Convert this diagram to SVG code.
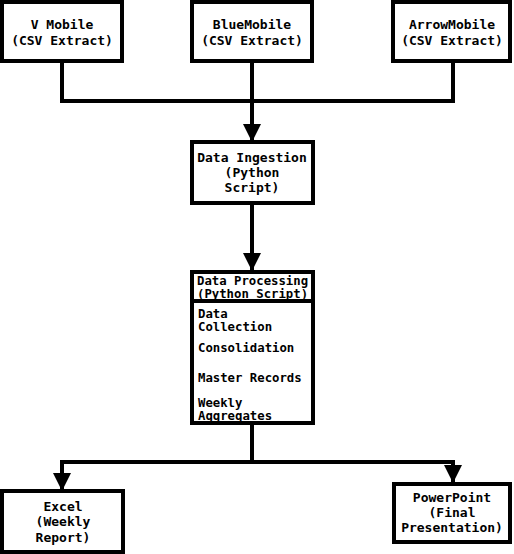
<svg xmlns="http://www.w3.org/2000/svg" width="514" height="554" viewBox="0 0 514 554">
  <style>
    .box { fill: #ffffff; stroke: #000000; stroke-width: 4; }
    .lbl { font-family: "DejaVu Sans Mono", "Liberation Mono", monospace; font-weight: bold; font-size: 13px; fill: #000000; text-anchor: middle; }
    .item { font-family: "DejaVu Sans Mono", "Liberation Mono", monospace; font-weight: bold; font-size: 12.3px; fill: #000000; }
    .wire { fill: none; stroke: #000000; stroke-width: 4; }
  </style>
  <defs>
    <marker id="arrow" markerUnits="userSpaceOnUse" markerWidth="18" markerHeight="18" refX="17" refY="9" orient="auto">
      <path d="M0,0 L18,9 L0,18 Z" fill="#000000"/>
    </marker>
  </defs>
  <rect width="514" height="554" fill="#ffffff"/>

  <!-- connectors -->
  <g id="connectors">
    <path class="wire" d="M62,63 V101 H252"/>
    <path class="wire" d="M453,63 V101 H252"/>
    <path class="wire" d="M252,63 V141" marker-end="url(#arrow)"/>
    <path class="wire" d="M252,204 V270" marker-end="url(#arrow)"/>
    <path class="wire" d="M252,424 V462 H62 V490" marker-end="url(#arrow)"/>
    <path class="wire" d="M252,462 H453 V482" marker-end="url(#arrow)"/>
  </g>

  <g id="v-mobile">
    <rect class="box" x="2" y="2" width="120" height="59"/>
    <text class="lbl" x="62" y="29">V Mobile</text>
    <text class="lbl" x="62" y="45">(CSV Extract)</text>
  </g>

  <g id="blue-mobile">
    <rect class="box" x="192" y="2" width="120" height="59"/>
    <text class="lbl" x="252" y="29">BlueMobile</text>
    <text class="lbl" x="252" y="45">(CSV Extract)</text>
  </g>

  <g id="arrow-mobile">
    <rect class="box" x="393" y="2" width="117" height="59"/>
    <text class="lbl" x="452" y="29">ArrowMobile</text>
    <text class="lbl" x="452" y="45">(CSV Extract)</text>
  </g>

  <g id="data-ingestion">
    <rect class="box" x="192" y="142" width="121" height="61"/>
    <text class="lbl" x="252" y="162">Data Ingestion</text>
    <text class="lbl" x="252" y="177">(Python</text>
    <text class="lbl" x="252" y="192">Script)</text>
  </g>

  <g id="data-processing">
    <rect x="192" y="272" width="121" height="151" fill="#ffffff"/>
    <text class="item" x="197" y="285">Data Processing</text>
    <text class="item" x="197" y="298">(Python Script)</text>
    <text class="item" x="198" y="318">Data</text>
    <text class="item" x="198" y="331">Collection</text>
    <text class="item" x="198" y="352">Consolidation</text>
    <text class="item" x="198" y="382">Master Records</text>
    <text class="item" x="198" y="407">Weekly</text>
    <text class="item" x="198" y="420">Aggregates</text>
    <line class="wire" x1="192" y1="301" x2="313" y2="301"/>
    <rect x="192" y="272" width="121" height="151" fill="none" stroke="#000000" stroke-width="4"/>
  </g>

  <g id="excel">
    <rect class="box" x="2" y="491" width="121" height="61"/>
    <text class="lbl" x="63" y="511">Excel</text>
    <text class="lbl" x="63" y="526">(Weekly</text>
    <text class="lbl" x="63" y="542">Report)</text>
  </g>

  <g id="powerpoint">
    <rect class="box" x="394" y="484" width="116" height="58"/>
    <text class="lbl" x="452" y="502">PowerPoint</text>
    <text class="lbl" x="452" y="517">(Final</text>
    <text class="lbl" x="452" y="532">Presentation)</text>
  </g>
</svg>
